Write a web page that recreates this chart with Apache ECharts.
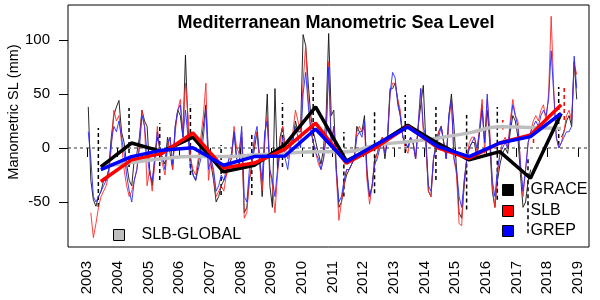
<!DOCTYPE html>
<html>
<head>
<meta charset="utf-8">
<script src="https://cdn.jsdelivr.net/npm/echarts@6/dist/echarts.min.js"></script>
<style>html,body{margin:0;padding:0;background:#fff;}#c{width:600px;height:300px;}</style>
</head>
<body>
<div id="c"></div>
<script>
// ---- tick labels ----
const yearTicks = [2003,2004,2005,2006,2007,2008,2009,2010,2011,2012,2013,2014,2015,2016,2017,2018,2019];
const yTicks = [-50, 0, 50, 100];

// ---- monthly series (Jan 2003 .. Dec 2018), mm ----
const monthStart = 2003;
const graceMonthly = [
  38,-30,-48,-54,-45,-40,-30,-30,-20,10,30,38,
  44,15,5,-15,-30,-35,-10,-5,10,35,25,20,
  -20,-35,-10,10,0,-10,-15,10,-5,-20,20,35,
  30,10,86,20,-10,-25,-30,-15,0,20,40,-5,
  -15,-30,-50,-45,-35,-30,-25,-15,-10,15,-10,-15,
  10,-60,-55,-30,-15,0,15,-10,-45,5,50,-35,
  -55,55,-20,10,20,0,0,10,5,25,15,15,
  105,95,60,30,15,5,-5,-15,0,30,106,30,
  35,-20,-55,-50,-35,-25,-20,-15,-10,20,15,15,
  30,-25,-45,-35,-10,-5,5,10,-10,10,55,55,
  60,45,30,10,5,0,10,5,-10,20,40,58,
  5,-40,-45,-10,5,15,20,5,-10,30,50,20,
  -20,-60,-65,-35,-10,0,5,5,-10,15,40,5,
  35,5,-40,-55,-30,-15,-5,0,-5,15,30,25,
  10,-25,-55,-50,-30,-20,null,null,null,null,null,null,
  null,null,null,null,null,10,15,25,30,20,80,45
];
const slbMonthly = [
  null,-60,-83,-70,-55,-45,-40,-35,-25,0,35,25,
  30,5,-20,-35,-45,-40,-30,-20,5,35,20,-35,
  -20,-40,-15,20,-5,-15,-25,0,10,-20,15,35,
  45,15,60,30,-10,-20,-25,-10,10,30,60,-30,
  -10,-25,-45,-40,-35,-40,-25,-10,-10,20,0,-5,
  15,-65,-60,-30,-15,5,15,-15,-40,10,30,-20,
  -35,-60,-25,5,20,0,-10,5,15,35,25,15,
  60,95,45,20,5,-5,-15,-20,-10,15,80,5,
  20,-25,-67,-50,-35,-20,-20,-15,-10,15,20,15,
  20,-30,-52,-35,-15,-5,5,10,-5,10,50,60,
  60,45,35,10,0,-5,10,5,-10,20,55,15,
  5,-40,-45,-10,0,15,20,5,-10,25,45,-10,
  -25,-70,-72,-30,-10,5,10,10,-5,20,45,-5,
  45,15,-35,-55,-25,-5,5,10,0,25,45,30,
  25,-15,-45,-20,5,15,25,30,25,35,40,25,
  50,122,55,10,0,5,15,30,35,25,78,68
];
const grepMonthly = [
  15,-10,-45,-50,-45,-40,-35,-30,-20,5,20,15,
  25,10,-5,-25,-40,-50,-30,-20,0,30,20,-5,
  -25,-30,-10,15,0,-10,-20,5,10,-15,20,35,
  40,10,35,10,-20,-25,-30,-20,-10,10,35,-20,
  -10,-20,-40,-35,-25,-30,-20,-10,-5,15,-10,-5,
  20,-45,-50,-20,-10,10,20,-10,-30,15,25,-20,
  -30,-45,-20,-5,10,-10,-20,0,10,20,10,0,
  50,70,40,15,5,-5,-10,-20,-10,10,75,0,
  20,-20,-50,-45,-30,-20,-20,-15,-10,10,15,10,
  25,-20,-45,-35,-15,-10,0,5,-5,5,50,70,
  65,40,30,10,5,0,10,5,-10,20,55,20,
  10,-35,-40,-10,0,10,20,5,-10,30,45,-10,
  -20,-45,-55,-30,-10,0,5,10,0,15,35,5,
  50,10,-30,-45,-20,-5,0,5,0,20,40,30,
  20,-15,-40,-20,5,15,20,25,20,30,35,30,
  45,90,50,10,0,5,10,15,15,20,85,55
];

// ---- annual means ----
const annualYears = [2003,2004,2005,2006,2007,2008,2009,2010,2011,2012,2013,2014,2015,2016,2017,2018];
const graceAnnual  = [-17.6,4.6,-3.4,10,-22,-16,3,38,-12,3,21,4,-11,-3.4,-28,32];
const slbAnnual    = [-31,-11,-5,13.9,-18.5,-14,-1,23,-14,1,20,0,-9.5,4.6,12,40];
const grepAnnual   = [-20,-8,-2,0.3,-16,-8,-7.4,17.6,-12.7,3.7,19.4,1.2,-8,4.6,10.5,32];
const globalAnnual = [-17.6,-13.5,-10,-8,-8,-6.5,-5,-3.4,-3.4,2.8,5.8,9.3,14,19.6,19,18];

// ---- dashed uncertainty bars ----
const graceErrLow  = [-54.6,-17.6,-29.6,-25,-43.5,-43.5,-17.6,-8.3,-45,-42,-4.6,-29.6,-57,-48,-79,2.8];
const graceErrHigh = [18.5,37,23,40,2.8,12,41.7,65.7,14.8,33,49,38,30.5,38,-8,56.5];
const slbErrYears = [2016,2017,2018];
const slbErrLow  = [17,4.6,26];
const slbErrHigh = [26,14,56];

const FONT = "'Liberation Sans', Arial, Helvetica, sans-serif";
const xMin = 2002.381, xMax = 2019.358;

const monthly = arr => arr.map((v, i) => [monthStart + (i + 0.5) / 12, v]);
const annual = arr => arr.map((v, i) => [annualYears[i] + 0.45, v]);

function barRender(color, width) {
  return function (params, api) {
    const x = api.value(0);
    const p1 = api.coord([x, api.value(1)]);
    const p2 = api.coord([x, api.value(2)]);
    return {
      type: 'line',
      shape: { x1: p1[0], y1: p1[1], x2: p2[0], y2: p2[1] },
      style: { stroke: color, lineWidth: width, lineDash: [4, 3] }
    };
  };
}

const chart = echarts.init(document.getElementById('c'), null, { renderer: 'canvas' });

const legendBase = {
  orient: 'vertical', icon: 'rect', itemWidth: 11, itemHeight: 11, padding: 0,
  itemStyle: { borderColor: '#000', borderWidth: 1 },
  textStyle: { fontFamily: FONT, fontSize: 16, color: '#000', padding: [0, 0, 0, 12], lineHeight: 12 },
  selectedMode: false
};

chart.setOption({
  animation: false,
  backgroundColor: '#fff',
  title: {
    text: 'Mediterranean Manometric Sea Level',
    left: 331, top: 9, textAlign: 'center',
    textStyle: { fontFamily: FONT, fontSize: 18, fontWeight: 'bold', color: '#000' }
  },
  graphic: [{
    type: 'text', x: 14, y: 112, rotation: Math.PI / 2,
    style: { text: 'Manometric SL (mm)', fontFamily: FONT, fontSize: 14.5, fill: '#000', align: 'center', verticalAlign: 'middle' }
  }],
  legend: [
    Object.assign({}, legendBase, { data: ['GRACE'], left: 502, top: 182 }),
    Object.assign({}, legendBase, { data: ['SLB'], left: 502, top: 203 }),
    Object.assign({}, legendBase, { data: ['GREP'], left: 502, top: 223 }),
    Object.assign({}, legendBase, { data: ['SLB-GLOBAL'], left: 113, top: 227 })
  ],
  grid: { left: 68, right: 11, top: 5, bottom: 53, show: true, borderColor: '#000', borderWidth: 1, backgroundColor: 'transparent' },
  xAxis: {
    type: 'value', min: xMin, max: xMax,
    axisLine: { show: false },
    splitLine: { show: false },
    axisTick: { show: true, customValues: yearTicks, length: 9, lineStyle: { color: '#000' } },
    axisLabel: { customValues: yearTicks, rotate: 90, margin: 14, fontFamily: FONT, fontSize: 15, color: '#000', formatter: v => String(v) }
  },
  yAxis: {
    type: 'value', min: -91.7, max: 132.4,
    axisLine: { show: false },
    splitLine: { show: false },
    axisTick: { show: true, customValues: yTicks, length: 9, lineStyle: { color: '#000' } },
    axisLabel: { customValues: yTicks, margin: 18, fontFamily: FONT, fontSize: 15, color: '#000' }
  },
  series: [
    { type: 'line', name: 'zero', data: [[xMin, 0], [xMax, 0]], symbol: 'none', silent: true,
      lineStyle: { color: '#333', width: 1, type: [3, 3] } },
    { type: 'line', name: 'GRACE monthly', data: monthly(graceMonthly), symbol: 'none', connectNulls: false,
      lineStyle: { color: '#111', width: 0.9 } },
    { type: 'line', name: 'SLB monthly', data: monthly(slbMonthly), symbol: 'none',
      lineStyle: { color: '#ff2a2a', width: 0.9 } },
    { type: 'line', name: 'GREP monthly', data: monthly(grepMonthly), symbol: 'none',
      lineStyle: { color: '#2a2aff', width: 0.9 } },
    { type: 'custom', name: 'GRACE err', clip: true,
      data: annualYears.map((y, i) => [y + 0.37, graceErrLow[i], graceErrHigh[i]]),
      renderItem: barRender('#000', 1.5) },
    { type: 'custom', name: 'SLB err', clip: true,
      data: slbErrYears.map((y, i) => [y + 0.55, slbErrLow[i], slbErrHigh[i]]),
      renderItem: barRender('#ff0000', 1.5) },
    { type: 'line', name: 'SLB-GLOBAL', data: annual(globalAnnual), symbol: 'none', smooth: 0.4,
      lineStyle: { color: '#bebebe', width: 3.5 }, itemStyle: { color: '#bebebe' } },
    { type: 'line', name: 'GRACE', data: annual(graceAnnual), symbol: 'none',
      lineStyle: { color: '#000', width: 3.5 }, itemStyle: { color: '#000' } },
    { type: 'line', name: 'SLB', data: annual(slbAnnual), symbol: 'none',
      lineStyle: { color: '#ff0000', width: 3.5 }, itemStyle: { color: '#ff0000' } },
    { type: 'line', name: 'GREP', data: annual(grepAnnual), symbol: 'none',
      lineStyle: { color: '#0000ff', width: 3.5 }, itemStyle: { color: '#0000ff' } }
  ]
});
</script>
</body>
</html>
